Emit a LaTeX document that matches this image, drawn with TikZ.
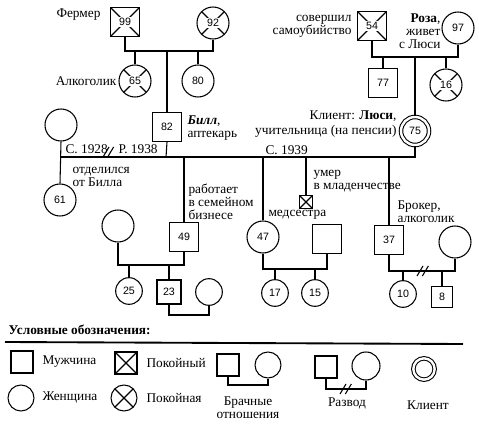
\documentclass[tikz,border=0pt]{standalone}
\usepackage{fontspec}
\setmainfont{Liberation Serif}
\setsansfont{Liberation Sans}
\usepackage{tikz}
\usetikzlibrary{positioning}
\newcommand{\numfont}{\fontsize{8}{8}\selectfont\sffamily}
\newcommand{\notefont}{\fontsize{10}{9.8}\selectfont}
\newcommand{\nb}[1]{{\setlength{\fboxsep}{0.6pt}\colorbox{white}{#1}}}
\tikzset{
	man/.style={draw, rectangle, minimum size=22pt, inner sep=0pt, font=\numfont},
	woman/.style={draw, circle, minimum size=24pt, inner sep=0pt, font=\numfont},
	kid/.style={minimum size=20pt},
	dead/.style={path picture={\draw (path picture bounding box.north west) -- (path picture bounding box.south east) (path picture bounding box.north east) -- (path picture bounding box.south west);}},
	client/.style={woman, double, double distance=1.8pt, minimum size=21pt},
	note/.style={font=\notefont, align=left, inner sep=0pt},
	legend/.style={minimum size=16.5pt}
}

\begin{document}
\begin{tikzpicture}[x=0.75pt, y=-0.75pt, line width=0.8pt]
	\useasboundingbox (0,0) rectangle (479,428);
	\node(f99)[man,dead] at (125,22){\nb{99}};
	\node(w92)[woman,dead] at (213,23){\nb{92}};
	\node(w65)[woman,dead] at (135,81){\nb{65}};
	\node(w80)[woman] at (198,81){80};
	\node(b82)[man] at (167,127){82};
	\node(w1)[woman] at (61,125){};
	\node(w61)[woman] at (60,200){61};
	\node(s49)[man] at (184,237){49};
	\node(w2)[woman] at (118,226){};
	\node(w25)[woman,kid] at (129,291){25};
	\node(s23)[man,minimum size=18pt] at (169,292){23};
	\node(w3)[woman,kid] at (209,292){};
	\node(w47)[woman] at (263,237){47};
	\node(h47)[man] at (327,239){};
	\node(w17)[woman,kid] at (275,293){17};
	\node(w15)[woman,kid] at (315,293){15};
	\node(inf)[man,dead,minimum size=10pt] at (306,202){};
	\node(s37)[man] at (389,240){37};
	\node(w4)[woman] at (455,242){};
	\node(w10)[woman,kid] at (403,294){10};
	\node(s8)[man,minimum size=16pt] at (442,297){8};
	\node(l75)[client] at (415,131){75};
	\node(s54)[man,dead] at (372,26){\nb{54}};
	\node(r97)[woman] at (458,28){97};
	\node(s77)[man] at (383,83){77};
	\node(w16)[woman,dead] at (446,85){\nb{16}};

	\node(t1)[note,anchor=east] at (101,15){Фермер};
	\node(t2)[note,anchor=east] at (117,81){Алкоголик};
	\node(t3)[note,anchor=west] at (187,128){\textbf{\textit{Билл}},\\аптекарь};
	\node(t4)[note,anchor=base west] at (65,153){С. 1928};
	\node(t5)[note,anchor=base west] at (118,153){Р. 1938};
	\node(t6)[note,anchor=west] at (72,177){отделился\\от Билла};
	\node(t7)[note,anchor=west] at (188,202){работает\\в семейном\\бизнесе};
	\node(t8)[note,anchor=west] at (268,215){медсестра};
	\node(t9)[note,anchor=base west] at (265,155){С. 1939};
	\node(t10)[note,anchor=west] at (313,181){умер\\в младенчестве};
	\node(t11)[note,anchor=west] at (397,212){Брокер,\\алкоголик};
	\node(t12)[note,anchor=east,align=right] at (397,124){Клиент: \textbf{Люси},\\[1.5pt]учительница (на пенсии)};
	\node(t13)[note,anchor=east,align=right] at (352,26){совершил\\самоубийство};
	\node(t14)[note,anchor=east,align=right] at (441,31){\textbf{Роза},\\живет\\с Люси};

	\coordinate(m1) at (168,51);
	\draw (f99.south) |- (m1) -| (w92.south);
	\draw (w65.north) -- (w65.north |- m1);
	\draw (w80.north) -- (w80.north |- m1);
	\draw (b82.north) -- (b82.north |- m1);

	\coordinate(m2) at (415,57);
	\draw (s54.south) |- (m2) -| (r97.south);
	\draw (s77.north) -- (s77.north |- m2);
	\draw (w16.north) -- (w16.north |- m2);
	\draw (l75.north) -- (m2);

	\coordinate(m3) at (166,157);
	\draw (w1.south) -- (w61.north);
	\draw (w1.south |- m3) -- (l75.south |- m3) -- (l75.south);
	\draw (b82.south) -- (m3);
	\draw (s49.north) -- (s49.north |- m3);
	\draw (w47.north) -- (w47.north |- m3);
	\draw (inf.north) -- (inf.north |- m3);
	\draw (s37.north) -- (s37.north |- m3);
	\coordinate(dv1) at (106,152);
	\draw (dv1) +(-3,5) -- +(3,-5) ([xshift=3.5pt]dv1) +(-3,5) -- +(3,-5);

	\coordinate(m4) at (150,265);
	\draw (w2.south) |- (m4) -| (s49.south);
	\draw (w25.north) -- (w25.north |- m4);
	\draw (s23.north) -- (s23.north |- m4);
	\coordinate(m5) at (190,315);
	\draw (s23.south) |- (m5) -| (w3.south);

	\coordinate(m6) at (295,269);
	\draw (w47.south) |- (m6) -| (h47.south);
	\draw (w17.north) -- (w17.north |- m6);
	\draw (w15.north) -- (w15.north |- m6);

	\coordinate(m7) at (422,271);
	\draw (s37.south) |- (m7) -| (w4.south);
	\draw (w10.north) -- (w10.north |- m7);
	\draw (s8.north) -- (s8.north |- m7);
	\draw (m7) +(-5,5) -- +(1,-5) ([xshift=4pt]m7) +(-5,5) -- +(1,-5);

	\node(lg)[note,anchor=west,font=\notefont\bfseries] at (8,330){Условные обозначения:};
	\coordinate(r1) at (5,342);
	\coordinate(r2) at (463,344);
	\draw[line width=1.4pt] (r1) -- (r2);
	\node(lm)[man,legend] at (22,362){};
	\node(lmt)[note,anchor=west] at (42,362){Мужчина};
	\node(ld)[man,dead,legend] at (126,363){};
	\node(ldt)[note,anchor=west] at (146,363){Покойный};
	\node(lw)[woman,legend,minimum size=19.5pt] at (21,398){};
	\node(lwt)[note,anchor=west] at (42,398){Женщина};
	\node(lx)[woman,dead,legend,minimum size=19.5pt] at (124,398){};
	\node(lxt)[note,anchor=west] at (146,398){Покойная};

	\node(bsq)[man,legend] at (228,365){};
	\node(bci)[woman,legend,minimum size=19.5pt] at (268,365){};
	\coordinate(bm) at (248,385);
	\draw (bsq.south) |- (bm) -| (bci.south);
	\node(bt)[note,align=center] at (248,408){Брачные\\отношения};

	\node(dsq)[man,legend] at (326,367){};
	\node(dci)[woman,legend,minimum size=21pt] at (366,366){};
	\coordinate(dm) at (345,389);
	\draw (dsq.south) |- (dm) -| (dci.south);
	\draw (dm) +(-5,5) -- +(1,-5) ([xshift=4pt]dm) +(-5,5) -- +(1,-5);
	\node(dt)[note] at (347,403){Развод};

	\node(cl)[client,minimum size=16pt] at (424,369){};
	\node(ct)[note] at (428,405){Клиент};
\end{tikzpicture}
\end{document}
